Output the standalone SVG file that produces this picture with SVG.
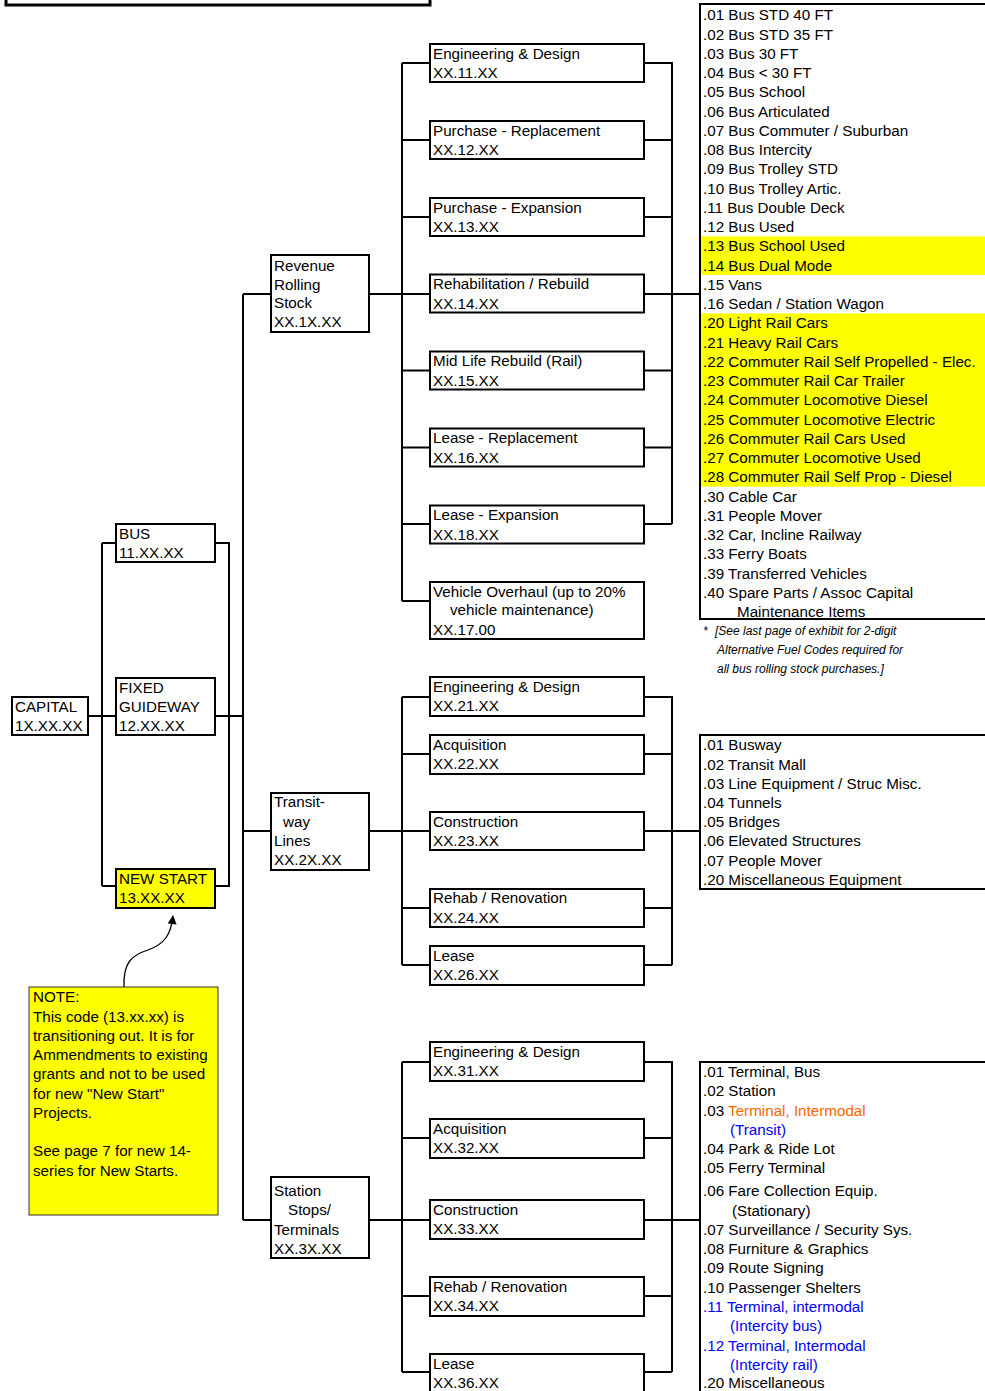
<svg xmlns="http://www.w3.org/2000/svg" width="985" height="1391" viewBox="0 0 985 1391">
<style>
.t{font-family:"Liberation Sans",Arial,sans-serif;font-size:15.2px;fill:#000}
.fn{font-family:"Liberation Sans",Arial,sans-serif;font-size:12px;font-style:italic;fill:#000}
.box{fill:#fff;stroke:#000;stroke-width:2}
.ybox{fill:#ff0;stroke:#000;stroke-width:2}
.con{fill:none;stroke:#000;stroke-width:2}
.hl{fill:#ff0}
.or{fill:#ff6600}
.bl{fill:#0000ff}
</style>
<defs>
<marker id="ah" viewBox="0 0 10 10" refX="9" refY="5" markerWidth="10" markerHeight="9" markerUnits="userSpaceOnUse" orient="auto">
<path d="M0,0 L10,5 L0,10 z" fill="#000"/>
</marker>
</defs>
<rect x="0" y="0" width="985" height="1391" fill="#fff"/>
<rect x="6" y="-20" width="424" height="25" fill="none" stroke="#000" stroke-width="3"/>

<g id="connectors">
<path class="con" d="M88,716 H116 M102,543 V886 M102,543 H116 M102,886 H116 M215,543 H229 V886 H215 M215,716 H243"/>
<path class="con" d="M243,294 V1220 M243,294 H271 M243,831 H271 M243,1220 H271"/>
<path class="con" d="M369,294 H430 M402,63 V601 M402,63 H430 M402,140 H430 M402,217 H430 M402,370.5 H430 M402,447.5 H430 M402,524 H430 M402,601 H430"/>
<path class="con" d="M644,63 H672 V524 M644,140 H672 M644,217 H672 M644,294 H700 M644,370.5 H672 M644,447.5 H672 M644,524 H672"/>
<path class="con" d="M369,831 H430 M402,697 V965 M402,697 H430 M402,754 H430 M402,908 H430 M402,965 H430"/>
<path class="con" d="M644,697 H672 V965 M644,754 H672 M644,831 H700 M644,908 H672 M644,965 H672"/>
<path class="con" d="M369,1220 H430 M402,1062 V1372 M402,1062 H430 M402,1138 H430 M402,1296 H430 M402,1372 H430"/>
<path class="con" d="M644,1062 H672 V1372 M644,1138 H672 M644,1220 H700 M644,1296 H672 M644,1372 H672"/>
<path fill="none" stroke="#000" stroke-width="1.3" d="M124,987 C123,962 132,955 148,950 C165,944 171,934 173,916" marker-end="url(#ah)"/>
</g>

<g id="capital"><rect class="box" x="12" y="697" width="76" height="38"/>
<text class="t" x="15" y="711.5">CAPITAL</text><text class="t" x="15" y="731">1X.XX.XX</text></g>
<g id="bus"><rect class="box" x="116" y="524" width="99" height="38"/>
<text class="t" x="119" y="538.5">BUS</text><text class="t" x="119" y="558">11.XX.XX</text></g>
<g id="fixed-guideway"><rect class="box" x="116" y="678" width="99" height="57"/>
<text class="t" x="119" y="692.5">FIXED</text><text class="t" x="119" y="711.5">GUIDEWAY</text><text class="t" x="119" y="731">12.XX.XX</text></g>
<g id="new-start"><rect class="ybox" x="116" y="869" width="99" height="39"/>
<text class="t" x="119" y="883.5">NEW START</text><text class="t" x="119" y="903">13.XX.XX</text></g>

<g id="note"><rect x="29" y="987" width="189" height="228" fill="#ff0" stroke="#333" stroke-width="1"/>
<text class="t" x="33" y="1002.4">NOTE:</text>
<text class="t" x="33" y="1021.7">This code (13.xx.xx) is</text>
<text class="t" x="33" y="1040.9">transitioning out. It is for</text>
<text class="t" x="33" y="1060.2">Ammendments to existing</text>
<text class="t" x="33" y="1079.4">grants and not to be used</text>
<text class="t" x="33" y="1098.6">for new "New Start"</text>
<text class="t" x="33" y="1117.9">Projects.</text>
<text class="t" x="33" y="1156.4">See page 7 for new 14-</text>
<text class="t" x="33" y="1175.6">series for New Starts.</text></g>

<g id="revenue-rolling-stock"><rect class="box" x="271" y="255" width="98" height="77"/>
<text class="t" x="274" y="270.5">Revenue</text><text class="t" x="274" y="289.5">Rolling</text><text class="t" x="274" y="308">Stock</text><text class="t" x="274" y="327">XX.1X.XX</text></g>
<g id="transitway-lines"><rect class="box" x="271" y="793" width="98" height="77"/>
<text class="t" x="274" y="807">Transit-</text><text class="t" x="283" y="827">way</text><text class="t" x="274" y="846">Lines</text><text class="t" x="274" y="865">XX.2X.XX</text></g>
<g id="station-stops"><rect class="box" x="271" y="1177" width="98" height="81"/>
<text class="t" x="274" y="1195.5">Station</text><text class="t" x="288" y="1215">Stops/</text><text class="t" x="274" y="1234.5">Terminals</text><text class="t" x="274" y="1253.5">XX.3X.XX</text></g>

<g id="rs-eng"><rect class="box" x="430" y="44" width="214" height="38"/><text class="t" x="433" y="58.5">Engineering &amp; Design</text><text class="t" x="433" y="78">XX.11.XX</text></g>
<g id="rs-purch-repl"><rect class="box" x="430" y="121" width="214" height="38"/><text class="t" x="433" y="135.5">Purchase - Replacement</text><text class="t" x="433" y="155">XX.12.XX</text></g>
<g id="rs-purch-exp"><rect class="box" x="430" y="198" width="214" height="38"/><text class="t" x="433" y="212.5">Purchase - Expansion</text><text class="t" x="433" y="232">XX.13.XX</text></g>
<g id="rs-rehab"><rect class="box" x="430" y="274.5" width="214" height="38"/><text class="t" x="433" y="289">Rehabilitation / Rebuild</text><text class="t" x="433" y="308.5">XX.14.XX</text></g>
<g id="rs-midlife"><rect class="box" x="430" y="351.5" width="214" height="38"/><text class="t" x="433" y="366">Mid Life Rebuild (Rail)</text><text class="t" x="433" y="385.5">XX.15.XX</text></g>
<g id="rs-lease-repl"><rect class="box" x="430" y="428.5" width="214" height="38"/><text class="t" x="433" y="443">Lease - Replacement</text><text class="t" x="433" y="462.5">XX.16.XX</text></g>
<g id="rs-lease-exp"><rect class="box" x="430" y="505.5" width="214" height="38"/><text class="t" x="433" y="520">Lease - Expansion</text><text class="t" x="433" y="539.5">XX.18.XX</text></g>
<g id="rs-overhaul"><rect class="box" x="430" y="582" width="214" height="57"/><text class="t" x="433" y="596.5">Vehicle Overhaul (up to 20%</text><text class="t" x="450" y="615">vehicle maintenance)</text><text class="t" x="433" y="634.5">XX.17.00</text></g>

<g id="tw-eng"><rect class="box" x="430" y="677" width="214" height="39"/><text class="t" x="433" y="691.5">Engineering &amp; Design</text><text class="t" x="433" y="711">XX.21.XX</text></g>
<g id="tw-acq"><rect class="box" x="430" y="735" width="214" height="39"/><text class="t" x="433" y="749.5">Acquisition</text><text class="t" x="433" y="769">XX.22.XX</text></g>
<g id="tw-const"><rect class="box" x="430" y="812" width="214" height="38"/><text class="t" x="433" y="826.5">Construction</text><text class="t" x="433" y="846">XX.23.XX</text></g>
<g id="tw-rehab"><rect class="box" x="430" y="889" width="214" height="38"/><text class="t" x="433" y="903">Rehab / Renovation</text><text class="t" x="433" y="922.5">XX.24.XX</text></g>
<g id="tw-lease"><rect class="box" x="430" y="946" width="214" height="39"/><text class="t" x="433" y="960.5">Lease</text><text class="t" x="433" y="980">XX.26.XX</text></g>

<g id="st-eng"><rect class="box" x="430" y="1042" width="214" height="39"/><text class="t" x="433" y="1056.5">Engineering &amp; Design</text><text class="t" x="433" y="1076">XX.31.XX</text></g>
<g id="st-acq"><rect class="box" x="430" y="1119" width="214" height="39"/><text class="t" x="433" y="1133.5">Acquisition</text><text class="t" x="433" y="1153">XX.32.XX</text></g>
<g id="st-const"><rect class="box" x="430" y="1200" width="214" height="39"/><text class="t" x="433" y="1214.5">Construction</text><text class="t" x="433" y="1234">XX.33.XX</text></g>
<g id="st-rehab"><rect class="box" x="430" y="1277" width="214" height="39"/><text class="t" x="433" y="1291.5">Rehab / Renovation</text><text class="t" x="433" y="1311">XX.34.XX</text></g>
<g id="st-lease"><rect class="box" x="430" y="1354" width="214" height="45"/><text class="t" x="433" y="1368.5">Lease</text><text class="t" x="433" y="1388">XX.36.XX</text></g>

<g id="list-rolling-stock">
<rect class="hl" x="701" y="236.4" width="284" height="38.5"/>
<rect class="hl" x="701" y="313.4" width="284" height="173.2"/>
<path class="con" d="M985,4 H700 V619 H985"/>
<text class="t" x="703" y="20.4">.01 Bus STD 40 FT</text>
<text class="t" x="703" y="39.7">.02 Bus STD 35 FT</text>
<text class="t" x="703" y="58.9">.03 Bus 30 FT</text>
<text class="t" x="703" y="78.2">.04 Bus &lt; 30 FT</text>
<text class="t" x="703" y="97.4">.05 Bus School</text>
<text class="t" x="703" y="116.7">.06 Bus Articulated</text>
<text class="t" x="703" y="135.9">.07 Bus Commuter / Suburban</text>
<text class="t" x="703" y="155.2">.08 Bus Intercity</text>
<text class="t" x="703" y="174.4">.09 Bus Trolley STD</text>
<text class="t" x="703" y="193.7">.10 Bus Trolley Artic.</text>
<text class="t" x="703" y="212.9">.11 Bus Double Deck</text>
<text class="t" x="703" y="232.2">.12 Bus Used</text>
<text class="t" x="703" y="251.4">.13 Bus School Used</text>
<text class="t" x="703" y="270.7">.14 Bus Dual Mode</text>
<text class="t" x="703" y="289.9">.15 Vans</text>
<text class="t" x="703" y="309.2">.16 Sedan / Station Wagon</text>
<text class="t" x="703" y="328.4">.20 Light Rail Cars</text>
<text class="t" x="703" y="347.7">.21 Heavy Rail Cars</text>
<text class="t" x="703" y="366.9">.22 Commuter Rail Self Propelled - Elec.</text>
<text class="t" x="703" y="386.2">.23 Commuter Rail Car Trailer</text>
<text class="t" x="703" y="405.4">.24 Commuter Locomotive Diesel</text>
<text class="t" x="703" y="424.7">.25 Commuter Locomotive Electric</text>
<text class="t" x="703" y="443.9">.26 Commuter Rail Cars Used</text>
<text class="t" x="703" y="463.2">.27 Commuter Locomotive Used</text>
<text class="t" x="703" y="482.4">.28 Commuter Rail Self Prop - Diesel</text>
<text class="t" x="703" y="501.7">.30 Cable Car</text>
<text class="t" x="703" y="520.9">.31 People Mover</text>
<text class="t" x="703" y="540.2">.32 Car, Incline Railway</text>
<text class="t" x="703" y="559.4">.33 Ferry Boats</text>
<text class="t" x="703" y="578.7">.39 Transferred Vehicles</text>
<text class="t" x="703" y="597.9">.40 Spare Parts / Assoc Capital</text>
<text class="t" x="737" y="616.5">Maintenance Items</text>
</g>

<g id="footnote">
<text class="fn" x="703" y="635">*</text>
<text class="fn" x="715" y="635">[See last page of exhibit for 2-digit</text>
<text class="fn" x="717" y="654">Alternative Fuel Codes required for</text>
<text class="fn" x="717" y="673">all bus rolling stock purchases.]</text>
</g>

<g id="list-transitway">
<path class="con" d="M985,735 H700 V889 H985"/>
<text class="t" x="703" y="750.4">.01 Busway</text>
<text class="t" x="703" y="769.6">.02 Transit Mall</text>
<text class="t" x="703" y="788.8">.03 Line Equipment / Struc Misc.</text>
<text class="t" x="703" y="808">.04 Tunnels</text>
<text class="t" x="703" y="827.2">.05 Bridges</text>
<text class="t" x="703" y="846.4">.06 Elevated Structures</text>
<text class="t" x="703" y="865.6">.07 People Mover</text>
<text class="t" x="703" y="884.8">.20 Miscellaneous Equipment</text>
</g>

<g id="list-stations">
<path class="con" d="M985,1062 H700 V1395"/>
<text class="t" x="703" y="1076.5">.01 Terminal, Bus</text>
<text class="t" x="703" y="1095.5">.02 Station</text>
<text class="t" x="703" y="1115.5">.03 <tspan class="or">Terminal, Intermodal</tspan></text>
<text class="t bl" x="730" y="1134.5">(Transit)</text>
<text class="t" x="703" y="1153.5">.04 Park &amp; Ride Lot</text>
<text class="t" x="703" y="1172.5">.05 Ferry Terminal</text>
<text class="t" x="703" y="1195.5">.06 Fare Collection Equip.</text>
<text class="t" x="732" y="1215.5">(Stationary)</text>
<text class="t" x="703" y="1234.5">.07 Surveillance / Security Sys.</text>
<text class="t" x="703" y="1254">.08 Furniture &amp; Graphics</text>
<text class="t" x="703" y="1273.3">.09 Route Signing</text>
<text class="t" x="703" y="1292.5">.10 Passenger Shelters</text>
<text class="t bl" x="703" y="1311.5">.11 Terminal, intermodal</text>
<text class="t bl" x="730" y="1330.5">(Intercity bus)</text>
<text class="t bl" x="703" y="1350.5">.12 Terminal, Intermodal</text>
<text class="t bl" x="730" y="1369.5">(Intercity rail)</text>
<text class="t" x="703" y="1387.5">.20 Miscellaneous</text>
</g>
</svg>
